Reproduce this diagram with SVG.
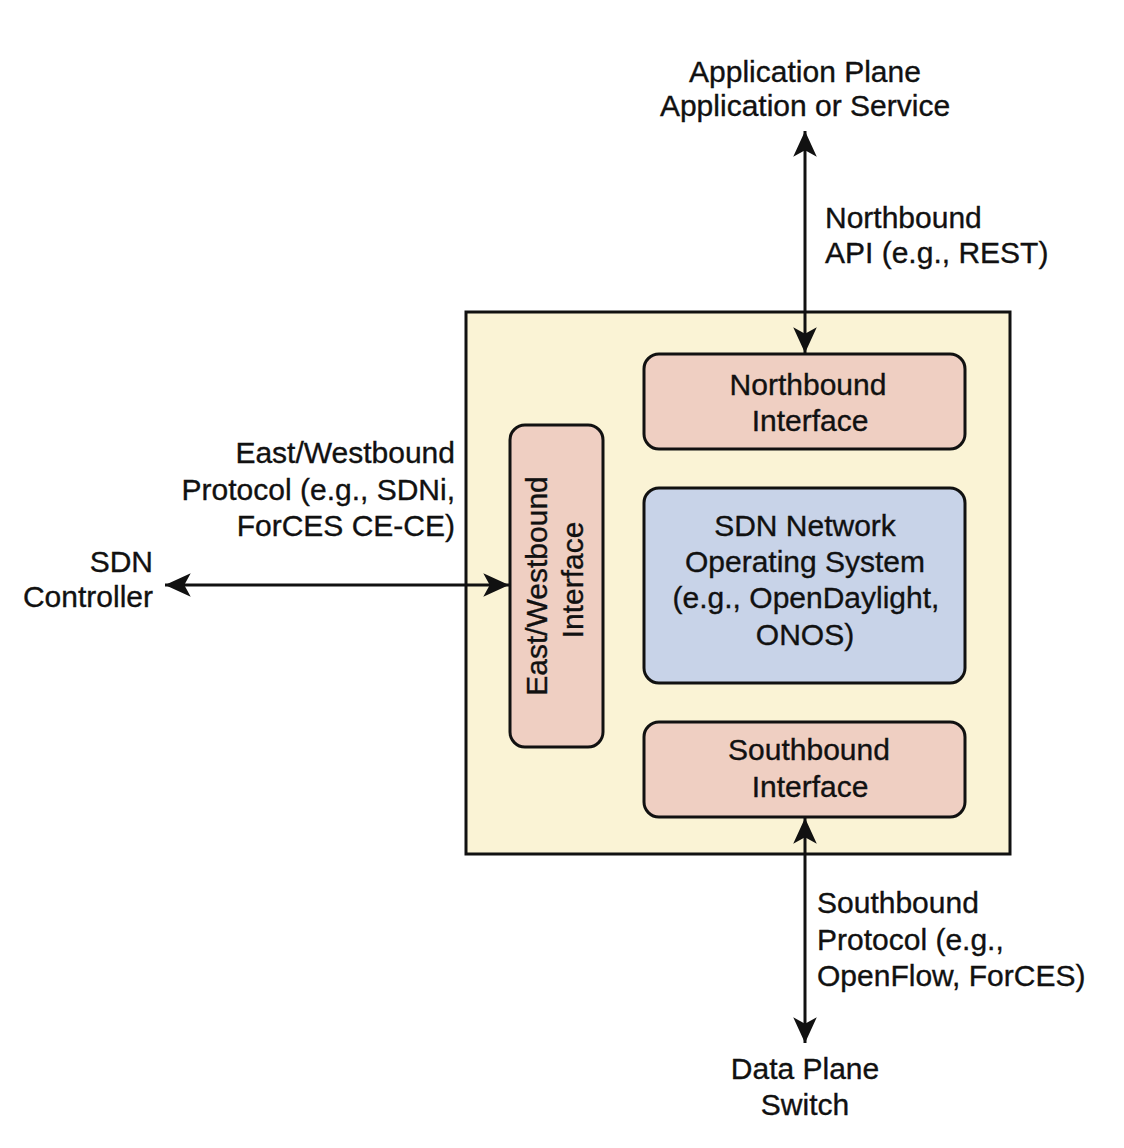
<svg xmlns="http://www.w3.org/2000/svg" width="1124" height="1148" viewBox="0 0 1124 1148">
<style>
text{font-family:"Liberation Sans",Arial,Helvetica,sans-serif;font-size:30px;fill:#111;stroke:#111;stroke-width:0.35}
.c{text-anchor:middle}
.r{text-anchor:end}
.box{stroke:#111;stroke-width:3}
.pink{fill:#efcfc2}
.blue{fill:#c8d3e8}
.conn{stroke:#111;stroke-width:3;fill:none;marker-start:url(#ah);marker-end:url(#ah)}
</style>
<defs>
<marker id="ah" markerUnits="userSpaceOnUse" markerWidth="30" markerHeight="30" viewBox="-26 -13 28 26" refX="0" refY="0" orient="auto-start-reverse">
<path d="M0,0 L-24,-11 L-18,0 L-24,11 Z" fill="#111"/>
</marker>
</defs>
<rect width="1124" height="1148" fill="#fff"/>
<g id="controller">
<rect class="box" x="466" y="312" width="544" height="542" fill="#faf3d5"/>
</g>
<g id="northbound-interface">
<rect class="box pink" x="644" y="354" width="321" height="95" rx="15"/>
<text class="c" x="808" y="395">Northbound</text>
<text class="c" x="810" y="431">Interface</text>
</g>
<g id="sdn-nos">
<rect class="box blue" x="644" y="488" width="321" height="195" rx="15"/>
<text class="c" x="805" y="536">SDN Network</text>
<text class="c" x="805" y="572">Operating System</text>
<text class="c" x="806" y="608">(e.g., OpenDaylight,</text>
<text class="c" x="805" y="645">ONOS)</text>
</g>
<g id="southbound-interface">
<rect class="box pink" x="644" y="722" width="321" height="95" rx="15"/>
<text class="c" x="809" y="760">Southbound</text>
<text class="c" x="810" y="797">Interface</text>
</g>
<g id="eastwest-interface">
<rect class="box pink" x="510" y="425" width="93" height="322" rx="15"/>
<text class="c" transform="translate(547,586) rotate(-90)" x="0" y="0">East/Westbound</text>
<text class="c" transform="translate(583,580) rotate(-90)" x="0" y="0">Interface</text>
</g>
<g id="application-plane">
<text class="c" x="805" y="82">Application Plane</text>
<text class="c" x="805" y="116">Application or Service</text>
</g>
<g id="data-plane">
<text class="c" x="805" y="1079">Data Plane</text>
<text class="c" x="805" y="1115">Switch</text>
</g>
<g id="sdn-controller">
<text class="r" x="153" y="572">SDN</text>
<text class="r" x="153" y="607">Controller</text>
</g>
<g id="connectors">
<line class="conn" x1="805" y1="131" x2="805" y2="353"/>
<line class="conn" x1="165" y1="585" x2="509" y2="585"/>
<line class="conn" x1="805" y1="818" x2="805" y2="1043"/>
</g>
<g id="labels">
<text x="825" y="228">Northbound</text>
<text x="825" y="263">API (e.g., REST)</text>
<text class="r" x="455" y="463">East/Westbound</text>
<text class="r" x="455" y="500">Protocol (e.g., SDNi,</text>
<text class="r" x="455" y="536">ForCES CE-CE)</text>
<text x="817" y="913">Southbound</text>
<text x="817" y="950">Protocol (e.g.,</text>
<text x="817" y="986">OpenFlow, ForCES)</text>
</g>
</svg>
